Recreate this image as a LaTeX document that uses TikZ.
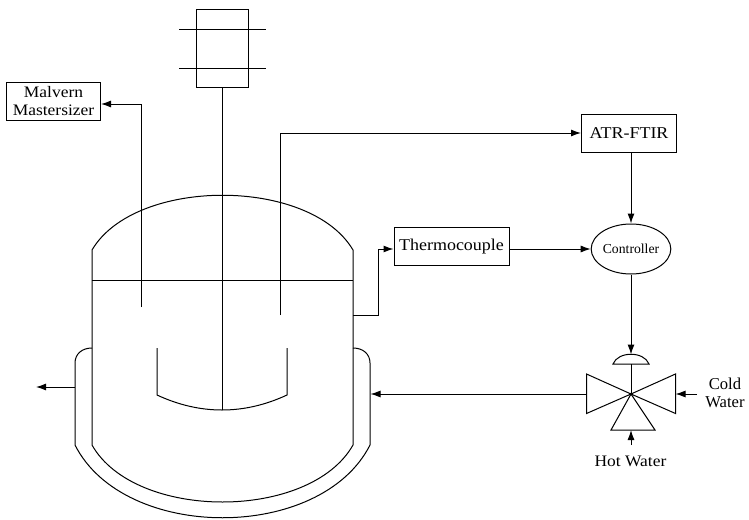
\documentclass[tikz,border=0pt]{standalone}
\usepackage{fontspec}
\setmainfont{Liberation Serif}
\newfontfamily\widefont[FakeStretch=1.09]{Liberation Serif}
\usetikzlibrary{arrows.meta,shapes.geometric}
\tikzset{
  ln/.style={line width=1pt,black},
  arr/.style={ln,-{Latex[length=10pt,width=7pt]}},
  boxn/.style={draw,line width=1pt,rectangle,inner sep=0pt,align=center,font=\widefont\fontsize{16.5}{18}\selectfont},
  lbl/.style={inner sep=0pt,align=center,font=\widefont\fontsize{16}{18}\selectfont}
}
\begin{document}
\begin{tikzpicture}[x=1pt,y=-1pt]
\useasboundingbox (0,0) rectangle (749,519);
% motor
\node[boxn,minimum width=52pt,minimum height=77pt] (motor) at (222,48.5) {};
\coordinate (m1l) at (179,29.5); \coordinate (m1r) at (266,29.5);
\coordinate (m2l) at (179,68); \coordinate (m2r) at (266,68);
\draw[ln] (m1l) -- (m1r);
\draw[ln] (m2l) -- (m2r);
\coordinate (shaftend) at (222,410);
\draw[ln] (motor.south) -- (shaftend);
% boxes
\node[boxn,font=\widefont\fontsize{16}{18}\selectfont,minimum width=94pt,minimum height=38pt] (malvern) at (53.5,101) {Malvern\\Mastersizer};
\node[boxn,minimum width=95pt,minimum height=38pt] (atr) at (629,133) {ATR-FTIR};
\node[boxn,minimum width=115pt,minimum height=37.5pt] (thermo) at (451.5,246.5) {Thermocouple};
\node[draw,line width=1pt,ellipse,minimum width=74pt,minimum height=50pt,inner sep=0pt,font=\fontsize{13.7}{15}\selectfont] (ctrl) at (631,249) {Controller};
% vessel
\coordinate (vtl) at (92,250); \coordinate (vtr) at (353,250);
\coordinate (vbl) at (92,445); \coordinate (vbr) at (353,445);
\coordinate (ll) at (92,280); \coordinate (lr) at (353,280);
\draw[ln] (vtl) .. controls (135,177) and (310,177) .. (vtr) -- (vbr)
  .. controls (310,521) and (135,521) .. (vbl) -- cycle;
\draw[ln] (ll) -- (lr);
% jacket
\coordinate (jl) at (92,348); \coordinate (jr) at (353,348);
\draw[ln] (jl) .. controls (82,348) and (75,354) .. (75,363) -- (75,445)
  .. controls (124,542) and (321,542) .. (370,445) -- (370,363)
  .. controls (370,354) and (363,348) .. (jr);
% impeller
\draw[ln] (157,348) -- (157,395) .. controls (200,415) and (244,415) .. (287,395) -- (287,348);
% probes
\coordinate (p1) at (141,307); \coordinate (p1c) at (141,104);
\draw[arr] (p1) -- (p1c) -- (malvern.east |- p1c);
\coordinate (p2) at (280,315); \coordinate (p2c) at (280,133);
\draw[arr] (p2) -- (p2c) -- (atr.west);
\coordinate (t0) at (353,315); \coordinate (t1) at (378,315); \coordinate (t2) at (378,249);
\draw[arr] (t0) -- (t1) -- (t2) -- (thermo.west |- t2);
\draw[arr] (thermo.east |- ctrl.west) -- (ctrl.west);
\draw[arr] (ctrl.north |- atr.south) -- (ctrl.north);
% valve
\coordinate (vc) at (631,394);
\coordinate (act) at (631,364);
\coordinate (acttop) at (631,354.5);
\draw[arr] (ctrl.south) -- (acttop);
\draw[ln] (613,364) .. controls (618,351) and (644,351) .. (649,364) -- cycle;
\draw[ln] (act) -- (vc);
\draw[ln,line join=miter] (vc) -- (586.5,374) -- (586.5,413.5) -- cycle;
\draw[ln,line join=miter] (vc) -- (675.5,374) -- (675.5,413.5) -- cycle;
\draw[ln,line join=miter] (vc) -- (611,430) -- (655,430) -- cycle;
\fill (vc) circle (1.5pt);
\coordinate (vl) at (586.5,394); \coordinate (vr) at (675.5,394); \coordinate (vb) at (631,430);
\coordinate (jin) at (370.5,394); \coordinate (jout) at (75,387); \coordinate (outend) at (36,387);
\coordinate (cold) at (697,394); \coordinate (hot) at (631,445);
\draw[arr] (vl) -- (jin);
\draw[arr] (jout) -- (outend);
\draw[arr] (cold) -- (vr);
\draw[arr] (hot) -- (vb);
\node[lbl,font=\fontsize{16.6}{18}\selectfont] (coldl) at (725,393) {Cold\\Water};
\node[lbl] (hotl) at (630.5,461) {Hot Water};
\end{tikzpicture}
\end{document}
